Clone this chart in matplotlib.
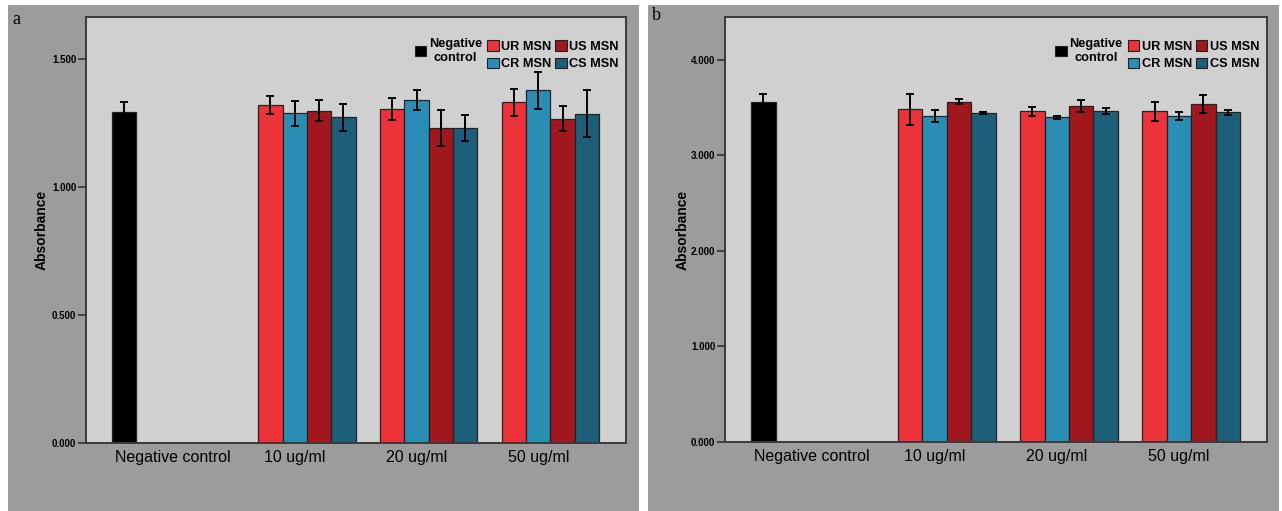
import matplotlib
matplotlib.use("Agg")
import matplotlib.pyplot as plt
from matplotlib.patches import Rectangle, Patch
from matplotlib import font_manager
import numpy as np

# ---------------- data ----------------
categories = ["Negative control", "10 ug/ml", "20 ug/ml", "50 ug/ml"]
series = ["Negative\ncontrol", "UR MSN", "CR MSN", "US MSN", "CS MSN"]
colors = ["#000000", "#EE323A", "#2A8DB3", "#A0171D", "#1D5F78"]

# panel a  (one value per category; None = no bar)
a_nc   = [1.293, None, None, None]
a_ur   = [None, 1.320, 1.305, 1.331]
a_cr   = [None, 1.288, 1.339, 1.378]
a_us   = [None, 1.297, 1.230, 1.267]
a_cs   = [None, 1.272, 1.230, 1.287]
a_nc_e = [0.040, None, None, None]
a_ur_e = [None, 0.036, 0.042, 0.052]
a_cr_e = [None, 0.048, 0.040, 0.072]
a_us_e = [None, 0.041, 0.070, 0.048]
a_cs_e = [None, 0.053, 0.050, 0.090]

# panel b
b_nc   = [3.563, None, None, None]
b_ur   = [None, 3.484, 3.463, 3.463]
b_cr   = [None, 3.414, 3.400, 3.410]
b_us   = [None, 3.563, 3.518, 3.536]
b_cs   = [None, 3.442, 3.469, 3.452]
b_nc_e = [0.080, None, None, None]
b_ur_e = [None, 0.160, 0.048, 0.100]
b_cr_e = [None, 0.060, 0.015, 0.042]
b_us_e = [None, 0.027, 0.065, 0.096]
b_cs_e = [None, 0.010, 0.032, 0.027]

a_ticks = [0.0, 0.5, 1.0, 1.5]
b_ticks = [0.0, 1.0, 2.0, 3.0, 4.0]

# ---------------- fonts ----------------
avail = {f.name for f in font_manager.fontManager.ttflist}
sans = "Liberation Sans" if "Liberation Sans" in avail else "DejaVu Sans"
serif = "Liberation Serif" if "Liberation Serif" in avail else "DejaVu Serif"
leg_size = 9.2

W, H = 1282, 511
fig = plt.figure(figsize=(W / 100, H / 100), dpi=100, facecolor="white")

# gray panel backgrounds (drawn behind the axes)
bg = fig.add_axes([0, 0, 1, 1], zorder=-10)
bg.set_xlim(0, W)
bg.set_ylim(H, 0)
bg.axis("off")
for x0, x1 in [(7.5, 639), (648, 1279)]:
    bg.add_patch(Rectangle((x0, 5), x1 - x0, H - 5, facecolor="#9C9C9C",
                           edgecolor="none"))


def panel(rect, vals, errs, ylim, ticks, letter, letter_xy, ylab_x):
    ax = fig.add_axes(rect)
    ax.set_facecolor("#D0D0D0")
    nser = len(series)
    for s in range(nser):
        for c in range(len(categories)):
            v = vals[s][c]
            if v is None:
                continue
            x = c * nser + s
            ax.bar(x, v, width=1.0, color=colors[s], edgecolor="#222222",
                   linewidth=0.9, zorder=2)
            ax.errorbar(x, v, yerr=errs[s][c], color="black", capsize=3.2,
                        elinewidth=1.4, capthick=1.4, zorder=3)
    ax.set_xlim(-1.57, len(categories) * nser + 0.6)
    ax.set_ylim(*ylim)
    ax.set_yticks(ticks)
    ax.set_yticklabels([f"{t:.3f}" for t in ticks], fontfamily=sans,
                       fontweight="bold", fontsize=7)
    ax.set_xticks([c * nser + (nser - 1) / 2 for c in range(len(categories))])
    ax.set_xticklabels(categories, fontfamily=sans, fontsize=11.5)
    ax.tick_params(axis="x", length=0, pad=5)
    ax.tick_params(axis="y", length=6, width=1.2, color="#333333", pad=1)
    for sp in ax.spines.values():
        sp.set_color("#3A3A3A")
        sp.set_linewidth(1.4)
    ax.set_ylabel("Absorbance", fontfamily=sans, fontweight="bold", fontsize=10)
    ax.yaxis.set_label_coords(ylab_x, 0.5)

    # legends
    prop = {"family": sans, "weight": "bold", "size": leg_size}
    h_nc = [Patch(facecolor=colors[0], edgecolor="#222222", linewidth=0.8)]
    leg1 = ax.legend(h_nc, [series[0]], loc="upper left",
                     bbox_to_anchor=(0.609, 0.950), frameon=False, prop=prop,
                     handlelength=0.9, handleheight=0.9, handletextpad=0.2,
                     borderpad=0, borderaxespad=0)
    for t in leg1.get_texts():
        t.set_linespacing(1.15)
        t.set_multialignment("center")
    ax.add_artist(leg1)
    h4 = [Patch(facecolor=colors[i], edgecolor="#222222", linewidth=0.8)
          for i in range(1, 5)]
    ax.legend(h4, series[1:], loc="upper left", ncol=2,
              bbox_to_anchor=(0.743, 0.945), frameon=False, prop=prop,
              handlelength=0.9, handleheight=0.9, handletextpad=0.2,
              columnspacing=0.3, labelspacing=0.35, borderpad=0,
              borderaxespad=0)
    bg.text(letter_xy[0], letter_xy[1], letter, fontfamily=serif,
            fontsize=13, ha="left", va="center")
    return ax


panel([86 / W, 1 - 443 / H, 540 / W, 426 / H],
      [a_nc, a_ur, a_cr, a_us, a_cs], [a_nc_e, a_ur_e, a_cr_e, a_us_e, a_cs_e],
      (0, 1.664), a_ticks, "a", (12, 19), -0.070)
panel([725 / W, 1 - 442 / H, 542 / W, 425 / H],
      [b_nc, b_ur, b_cr, b_us, b_cs], [b_nc_e, b_ur_e, b_cr_e, b_us_e, b_cs_e],
      (0, 4.45), b_ticks, "b", (652, 16), -0.066)

fig.savefig("out.png", dpi=100, facecolor="white")
